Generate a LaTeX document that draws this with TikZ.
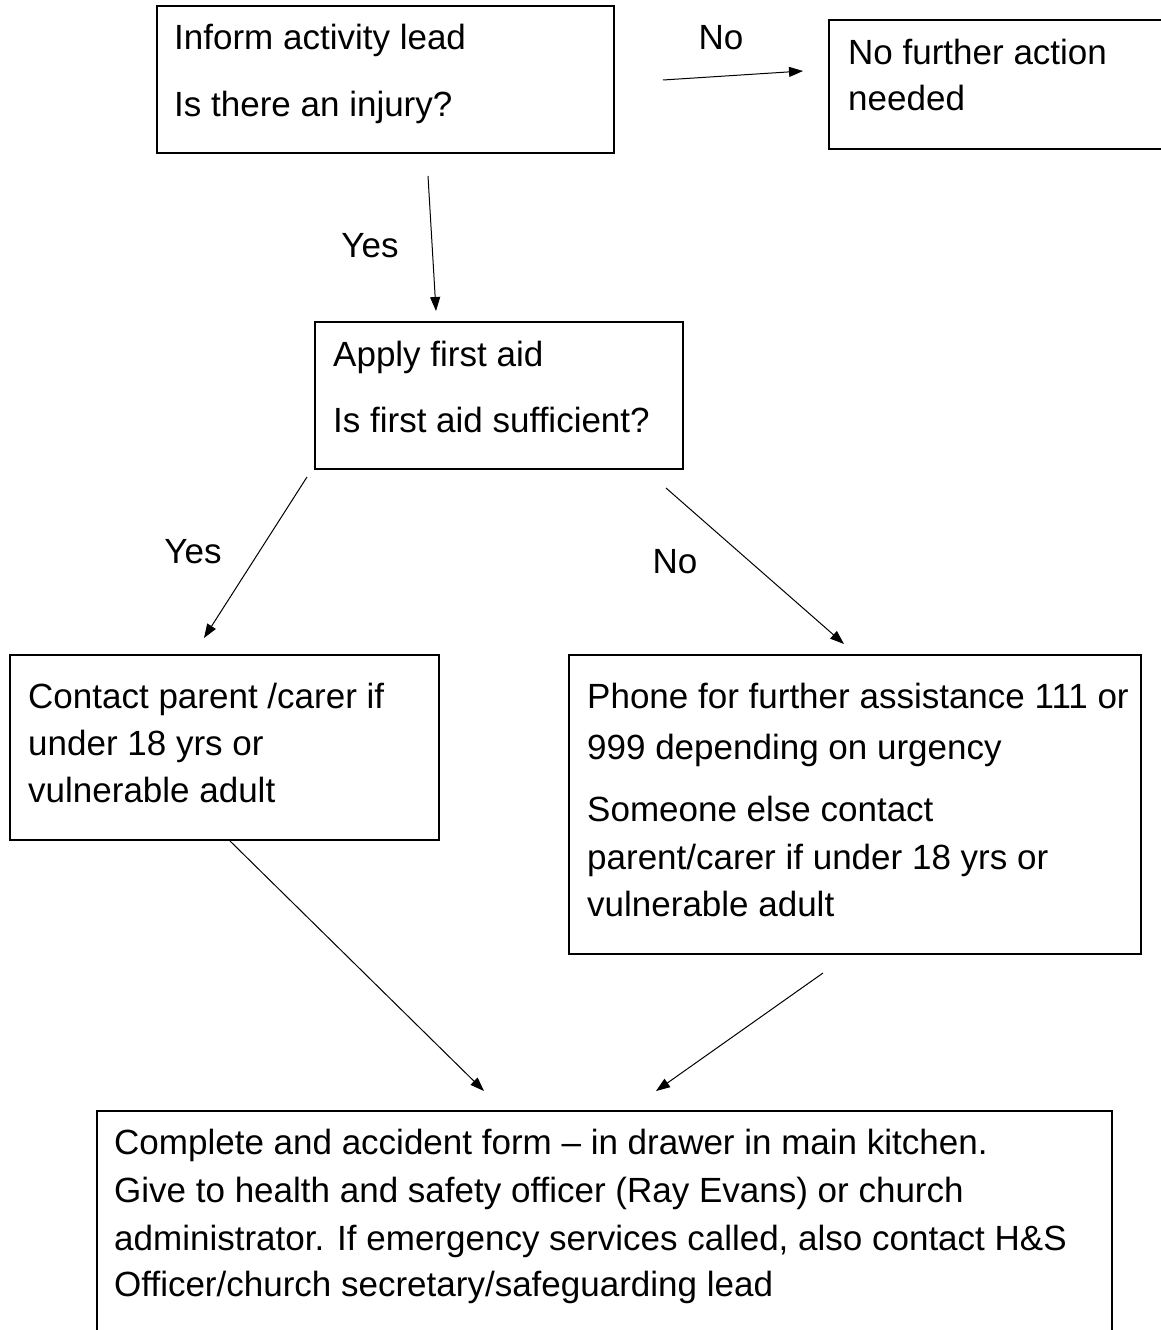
\documentclass[tikz,border=0pt]{standalone}
\usepackage{fontspec}
\setmainfont{Liberation Sans}
\usetikzlibrary{arrows.meta}
\tikzset{
  box/.style={draw=black, line width=1.6pt, anchor=north west, inner sep=0pt, outer sep=0pt},
  txt/.style={anchor=base west, inner sep=0pt, font=\fontsize{35}{42}\selectfont},
  lbl/.style={anchor=base, inner sep=0pt, font=\fontsize{35}{42}\selectfont},
  conn/.style={line width=1pt, -{Triangle[length=14pt,width=10pt]}}
}
\begin{document}
\begin{tikzpicture}[x=1pt,y=-1pt]
\clip (0,0) rectangle (1161,1330);
\fill[white] (0,0) rectangle (1161,1330);
% boxes
\node[box, minimum width=457pt, minimum height=147pt] (A) at (157,6) {};
\node[box, minimum width=350pt, minimum height=129pt] (B) at (829,20) {};
\node[box, minimum width=368pt, minimum height=147pt] (C) at (315,322) {};
\node[box, minimum width=429pt, minimum height=185pt] (D) at (10,655) {};
\node[box, minimum width=572pt, minimum height=299pt] (E) at (569,655) {};
\node[box, minimum width=1015pt, minimum height=240pt] (F) at (97,1111) {};
% texts
\node[txt] (a1) at (174,50) {Inform activity lead};
\node[txt] (a2) at (174,116) {Is there an injury?};
\node[txt] (b1) at (848,64) {No further action};
\node[txt] (b2) at (848,110) {needed};
\node[txt] (c1) at (333,366) {Apply first aid};
\node[txt] (c2) at (333,432) {Is first aid sufficient?};
\node[txt] (d1) at (28,708) {Contact parent /carer if};
\node[txt] (d2) at (28,755) {under 18 yrs or};
\node[txt] (d3) at (28,802) {vulnerable adult};
\node[txt] (e1) at (587,708) {Phone for further assistance 111 or};
\node[txt] (e2) at (587,759) {999 depending on urgency};
\node[txt] (e3) at (587,821) {Someone else contact};
\node[txt] (e4) at (587,869) {parent/carer if under 18 yrs or};
\node[txt] (e5) at (587,916) {vulnerable adult};
\node[txt] (f1) at (114,1154) {Complete and accident form -- in drawer in main kitchen.};
\node[txt] (f2) at (114,1202) {Give to health and safety officer (Ray Evans) or church};
\node[txt] (f3) at (114,1250) {administrator. If emergency services called, also contact H\&S};
\node[txt] (f4) at (114,1296) {Officer/church secretary/safeguarding lead};
% labels
\node[lbl] (l1) at (721,50) {No};
\node[lbl] (l2) at (370,257) {Yes};
\node[lbl] (l3) at (193,563) {Yes};
\node[lbl] (l4) at (675,573) {No};
% connector ends
\coordinate (ab1) at (663,80); \coordinate (ab2) at (803,71);
\coordinate (ac1) at (428,176); \coordinate (ac2) at (436,311);
\coordinate (cd1) at (307,477); \coordinate (cd2) at (204,638);
\coordinate (ce1) at (666,488); \coordinate (ce2) at (844,644);
\coordinate (df1) at (229,840); \coordinate (df2) at (484,1091);
\coordinate (ef1) at (823,973); \coordinate (ef2) at (656,1091);
\draw[conn] (ab1) -- (ab2);
\draw[conn] (ac1) -- (ac2);
\draw[conn] (cd1) -- (cd2);
\draw[conn] (ce1) -- (ce2);
\draw[conn] (df1) -- (df2);
\draw[conn] (ef1) -- (ef2);
\end{tikzpicture}
\end{document}
